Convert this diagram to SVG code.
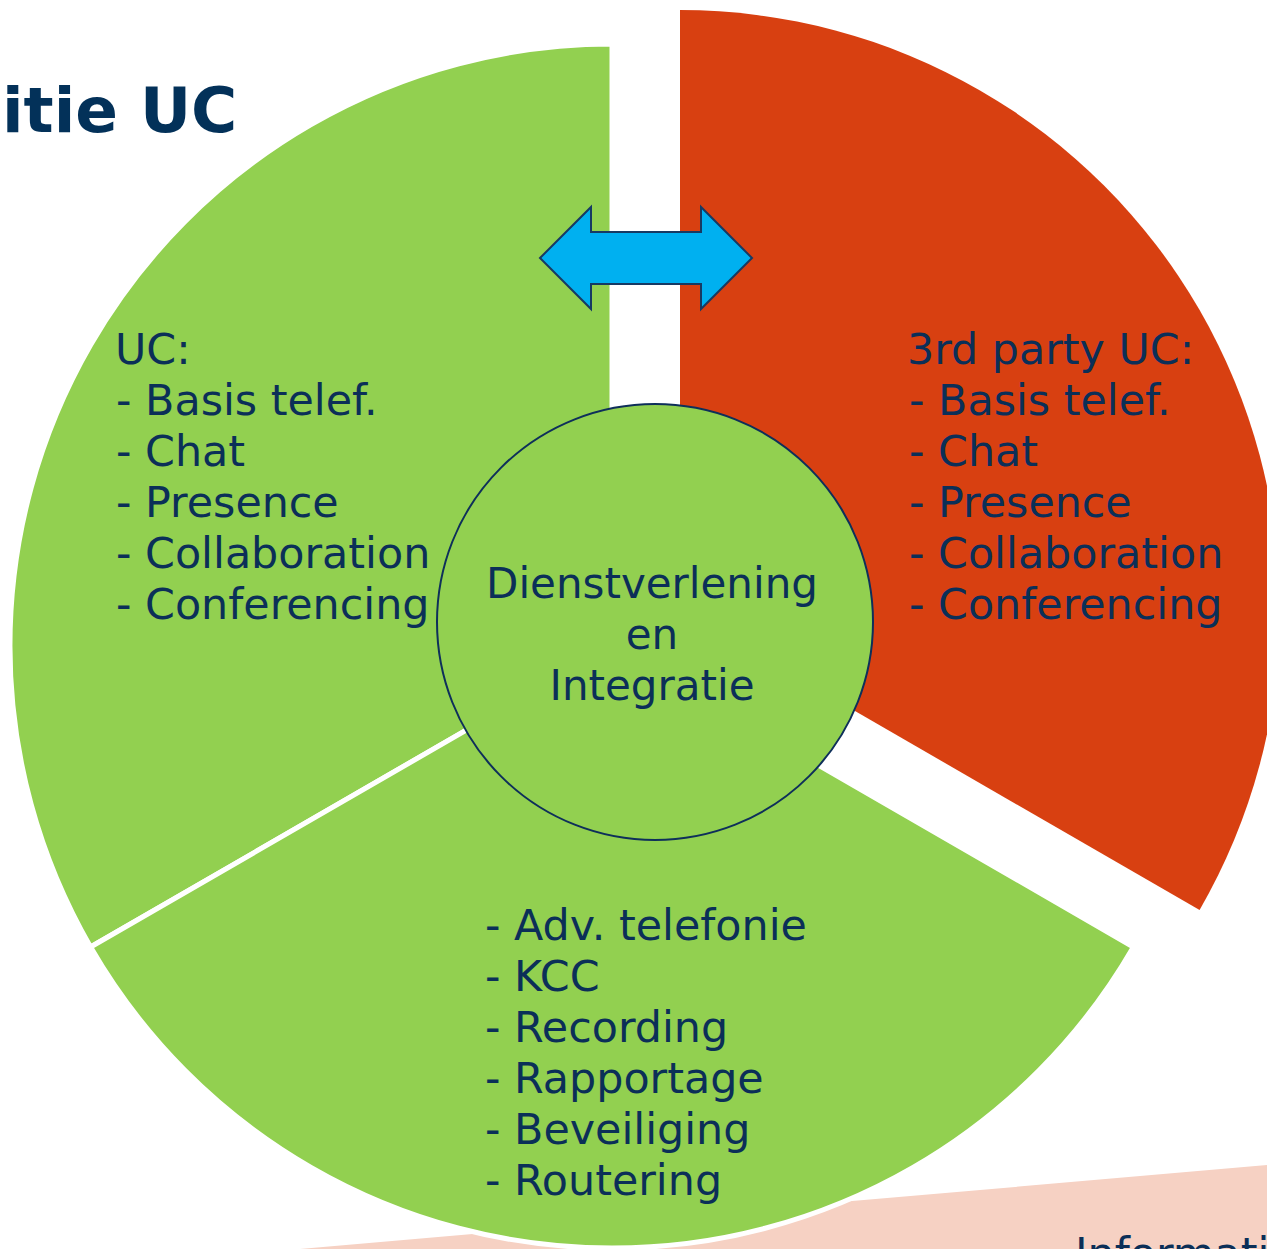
<svg xmlns="http://www.w3.org/2000/svg" width="1267" height="1249" viewBox="0 0 1267 1249">
<style>
.t{font-family:"DejaVu Sans","Liberation Sans",sans-serif;font-size:42.8px;fill:#0B2F58}
.m{font-size:42px;text-anchor:middle}
.title{font-family:"DejaVu Sans","Liberation Sans",sans-serif;font-size:63px;font-weight:bold;fill:#033159}
.g{fill:#92D050;stroke:#FFFFFF;stroke-width:5;stroke-linejoin:round}
</style>
<rect width="1267" height="1249" fill="#FFFFFF"/>
<polygon points="300,1249 1267,1165 1267,1249" fill="#F6D1C3"/>
<text class="t" x="1075" y="1268">Informatie</text>
<text class="title" x="2" y="132">itie UC</text>
<g id="uc">
<path class="g" d="M612,646 L612,44 A602,602 0 0,0 90.6,947 Z"/>
<text class="t" x="115" y="364">UC:</text>
<text class="t" x="116" y="415">- Basis telef.</text>
<text class="t" x="116" y="466">- Chat</text>
<text class="t" x="116" y="517">- Presence</text>
<text class="t" x="116" y="568">- Collaboration</text>
<text class="t" x="116" y="619">- Conferencing</text>
</g>
<g id="bottom">
<path class="g" d="M612,646 L90.6,947 A602,602 0 0,0 1133.4,947 Z"/>
<text class="t" x="485" y="940">- Adv. telefonie</text>
<text class="t" x="485" y="991">- KCC</text>
<text class="t" x="485" y="1042">- Recording</text>
<text class="t" x="485" y="1093">- Rapportage</text>
<text class="t" x="485" y="1144">- Beveiliging</text>
<text class="t" x="485" y="1195">- Routering</text>
</g>
<g id="thirdparty">
<path d="M680,610 L680,10 A600,600 0 0,1 1199.6,910 Z" fill="#D84011"/>
<text class="t" x="907" y="364">3rd party UC:</text>
<text class="t" x="909" y="415">- Basis telef.</text>
<text class="t" x="909" y="466">- Chat</text>
<text class="t" x="909" y="517">- Presence</text>
<text class="t" x="909" y="568">- Collaboration</text>
<text class="t" x="909" y="619">- Conferencing</text>
</g>
<g id="center">
<circle cx="655" cy="622" r="218" fill="#92D050" stroke="#0E2F5A" stroke-width="2"/>
<text class="t m" x="652" y="598">Dienstverlening</text>
<text class="t m" x="652" y="649">en</text>
<text class="t m" x="652" y="700">Integratie</text>
</g>
<g id="connectors">
<polygon points="540,258 591,207 591,232 701,232 701,207 752,258 701,309 701,284 591,284 591,309" fill="#00B0F0" stroke="#173A63" stroke-width="2" stroke-linejoin="miter"/>
</g>
</svg>
